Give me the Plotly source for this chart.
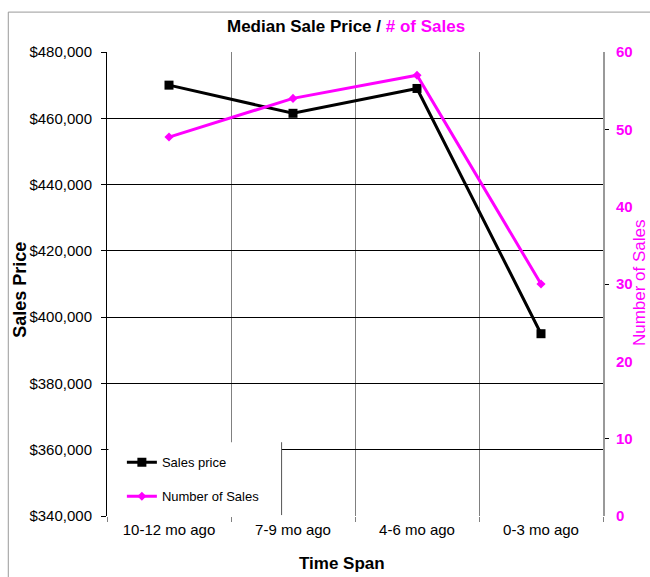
import plotly.graph_objects as go

categories = ["10-12 mo ago", "7-9 mo ago", "4-6 mo ago", "0-3 mo ago"]
sales_price = [470000, 461500, 469000, 395000]
number_of_sales = [49, 54, 57, 30]

MAGENTA = "#FF00FF"
FONT = "Liberation Sans, Arial, sans-serif"

fig = go.Figure()
fig.add_trace(go.Scatter(
    x=categories, y=sales_price, name="Sales price", mode="lines+markers",
    line=dict(color="black", width=3), marker=dict(symbol="square", size=9, color="black"),
    legendgroup="a", yaxis="y"))
fig.add_trace(go.Scatter(
    x=categories, y=number_of_sales, name="Number of Sales", mode="lines+markers",
    line=dict(color=MAGENTA, width=3), marker=dict(symbol="diamond", size=7, color=MAGENTA),
    legendgroup="b", yaxis="y2"))

fig.update_layout(
    width=650, height=577,
    margin=dict(l=107, r=47, t=52, b=61),
    paper_bgcolor="white", plot_bgcolor="white",
    font=dict(family=FONT, color="black", size=15),
    showlegend=True,
    legend=dict(x=0.03, y=0.01, xanchor="left", yanchor="bottom",
                bgcolor="rgba(0,0,0,0)", font=dict(size=13, family=FONT),
                tracegroupgap=14, itemwidth=30),
    xaxis=dict(type="category", range=[-0.5, 3.5], tickson="boundaries", showgrid=True,
               gridcolor="#808080", gridwidth=1, ticks="outside", ticklen=5, tickcolor="#808080",
               showline=True, linecolor="white", linewidth=1,
               tickfont=dict(size=15), zeroline=False),
    yaxis=dict(range=[340000, 480000], dtick=20000, tickformat="$,d",
               showgrid=True, gridcolor="black", gridwidth=1,
               showline=True, linecolor="black", linewidth=1,
               ticks="outside", ticklen=5, tickcolor="black",
               ticklabelstandoff=6, tickfont=dict(size=15), zeroline=False),
    yaxis2=dict(range=[0, 60], dtick=10, overlaying="y", side="right",
                showgrid=False, showline=True, linecolor="#999999", linewidth=2,
                ticks="", ticklabelstandoff=8,
                tickfont=dict(size=15, color=MAGENTA, family=FONT, weight="bold"),
                minor=dict(tickvals=[10, 30, 50], ticks="outside", ticklen=4, tickcolor="black"),
                zeroline=False),
)

# white legend backdrop and right edge
fig.add_shape(type="rect", xref="paper", yref="paper", x0=0.003, x1=0.352, y0=0.0, y1=0.159,
              fillcolor="white", line=dict(width=0), layer="above")
fig.add_shape(type="line", xref="paper", yref="paper", x0=0.352, x1=0.352, y0=0.002, y1=0.159,
              line=dict(color="#555555", width=1), layer="above")
# chart frame
fig.add_shape(type="rect", xref="paper", yref="paper", x0=-0.199, x1=1.12, y0=-0.17, y1=1.086,
              line=dict(color="#999999", width=1), fillcolor="rgba(0,0,0,0)", layer="below")

fig.add_annotation(text="Median Sale Price / <span style='color:#FF00FF'># of Sales</span>",
                   xref="paper", yref="paper", x=0.481, y=1.056, xanchor="center", yanchor="middle",
                   showarrow=False, font=dict(size=17, family=FONT, weight="bold"))
fig.add_annotation(text="Sales Price", xref="paper", yref="paper", x=-0.177, y=0.488,
                   textangle=-90, xanchor="center", yanchor="middle", showarrow=False,
                   font=dict(size=18, family=FONT, weight="bold"))
fig.add_annotation(text="Number of Sales", xref="paper", yref="paper", x=1.0725, y=0.504,
                   textangle=-90, xanchor="center", yanchor="middle", showarrow=False,
                   borderpad=0, font=dict(size=17, family=FONT, color=MAGENTA))
fig.add_annotation(text="Time Span", xref="paper", yref="paper", x=0.473, y=-0.103,
                   xanchor="center", yanchor="middle", showarrow=False,
                   font=dict(size=17, family=FONT, weight="bold"))

fig.write_html("out.html", config={"displayModeBar": False},
               post_script="document.body.style.margin='0';")
